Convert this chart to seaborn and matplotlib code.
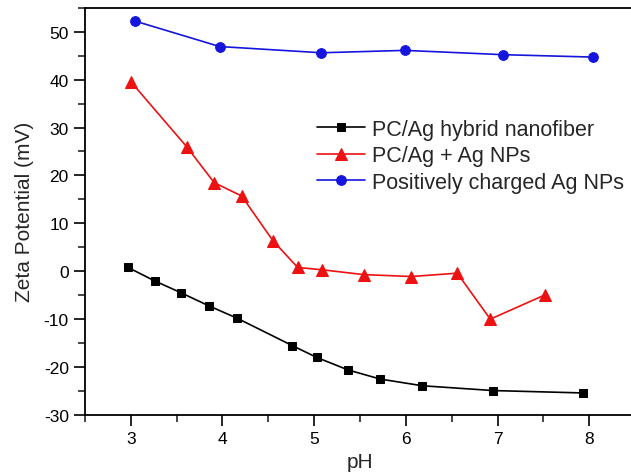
import pandas as pd
import seaborn as sns
import matplotlib.pyplot as plt
from matplotlib.ticker import MultipleLocator

# values
ph_fiber = [2.97, 3.26, 3.55, 3.85, 4.16, 4.76, 5.03, 5.37, 5.72, 6.18, 6.95, 7.93]
zeta_fiber = [0.8, -2.0, -4.5, -7.2, -9.8, -15.5, -18.0, -20.6, -22.5, -23.9, -24.9, -25.4]

ph_mix = [3.00, 3.61, 3.91, 4.21, 4.55, 4.82, 5.09, 5.54, 6.06, 6.56, 6.92, 7.52]
zeta_mix = [39.6, 26.0, 18.5, 15.7, 6.4, 0.8, 0.3, -0.7, -1.1, -0.4, -10.0, -4.9]

ph_np = [3.05, 3.97, 5.08, 5.99, 7.06, 8.04]
zeta_np = [52.2, 46.9, 45.6, 46.1, 45.2, 44.7]

labels = ["PC/Ag hybrid nanofiber", "PC/Ag + Ag NPs", "Positively charged Ag NPs"]

sns.set_style("ticks")
plt.rcParams['font.family'] = ['Liberation Sans', 'DejaVu Sans']
plt.rcParams['axes.unicode_minus'] = False

fig = plt.figure(figsize=(6.31, 4.77), dpi=100)
ax = fig.add_axes([0.1344, 0.1279, 0.8723, 0.8538])

sns.lineplot(x=ph_fiber, y=zeta_fiber, ax=ax, color="black", marker="s", markersize=6,
             markeredgecolor="black", linewidth=1.2, label=labels[0])
sns.lineplot(x=ph_mix, y=zeta_mix, ax=ax, color="#ee1111", marker="^", markersize=8,
             markeredgecolor="#ee1111", linewidth=1.2, label=labels[1])
sns.lineplot(x=ph_np, y=zeta_np, ax=ax, color="#1515dd", marker="o", markersize=7,
             markeredgecolor="#1515dd", linewidth=1.2, label=labels[2])

ax.set_xlim(2.5, 8.5)
ax.set_ylim(-30, 55)
ax.xaxis.set_major_locator(MultipleLocator(1))
ax.xaxis.set_minor_locator(MultipleLocator(0.5))
ax.yaxis.set_major_locator(MultipleLocator(10))
ax.yaxis.set_minor_locator(MultipleLocator(5))
ax.tick_params(which='major', direction='out', length=8, width=1.2, labelsize=12.5, colors='black')
ax.tick_params(which='minor', direction='out', length=5, width=1.2)
for s in ax.spines.values():
    s.set_linewidth(1.3)
    s.set_color('black')

ax.set_xlabel("pH", fontsize=15, labelpad=4)
ax.set_ylabel("Zeta Potential (mV)", fontsize=15, labelpad=7)

ax.legend(loc='center left', bbox_to_anchor=(0.502, 0.6715), bbox_transform=fig.transFigure,
          frameon=False, fontsize=15.5, borderpad=0, borderaxespad=0,
          handlelength=2.25, handletextpad=0.3, labelspacing=0.25)

fig.savefig("out.png", dpi=100, facecolor='white')
